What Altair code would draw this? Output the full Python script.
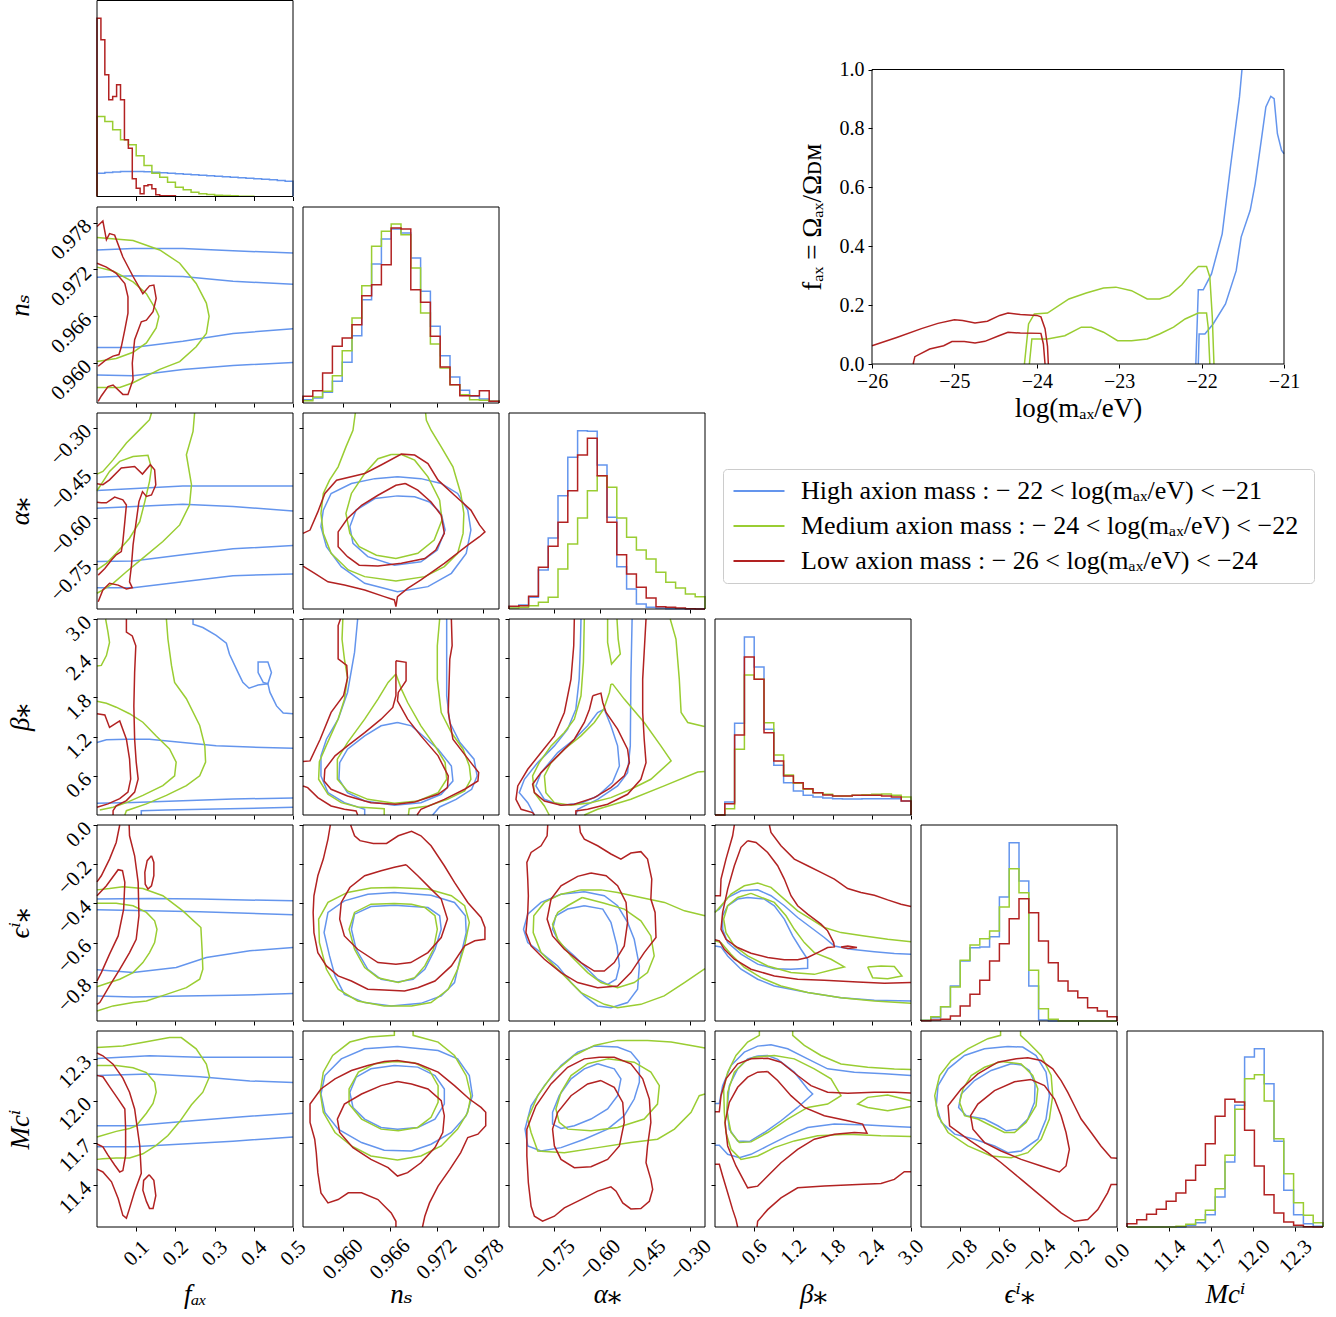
import altair as alt
import pandas as pd

FONT = "Liberation Serif, DejaVu Serif, serif"

LABEL_HIGH = "High axion mass :  − 22 < log(mₐₓ/eV) < −21"
LABEL_MED = "Medium axion mass :  − 24 < log(mₐₓ/eV) < −22"
LABEL_LOW = "Low axion mass :  − 26 < log(mₐₓ/eV) < −24"
GROUPS = ["high", "medium", "low"]
GROUP_LABEL = {"high": LABEL_HIGH, "medium": LABEL_MED, "low": LABEL_LOW}
GROUP_COLORS = ["#6495ED", "#9ACD32", "#B22222"]

PARAMS = ["fax", "ns", "alpha", "beta", "eps", "mc"]
RANGES = {"fax": [0.0, 0.5], "ns": [0.9549, 0.9800], "alpha": [-0.900, -0.252],
          "beta": [0.0, 3.0], "eps": [-1.0, 0.0], "mc": [11.097, 12.497]}
TICKS = {"fax": [0.1, 0.2, 0.3, 0.4, 0.5], "ns": [0.960, 0.966, 0.972, 0.978],
         "alpha": [-0.75, -0.60, -0.45, -0.30], "beta": [0.6, 1.2, 1.8, 2.4, 3.0],
         "eps": [-0.8, -0.6, -0.4, -0.2, 0.0], "mc": [11.4, 11.7, 12.0, 12.3]}
FORMATS = {"fax": ".1f", "ns": ".3f", "alpha": ".2f", "beta": ".1f", "eps": ".1f", "mc": ".1f"}
TITLES = {"fax": "fₐₓ", "ns": "nₛ", "alpha": "α⁎", "beta": "β⁎", "eps": "ϵⁱ⁎", "mc": "Mcⁱ"}

# ---------------- 1D histograms (relative heights) ----------------
HIST_FAX_WIDTH = {"high": 0.02, "medium": 0.02, "low": 0.01}
HIST_FAX = {
    "high": [23.3, 24.0, 24.5, 25.0, 25.0, 25.0, 24.7, 24.3, 23.7, 23.3, 22.7, 22.3, 21.7,
             21.3, 20.7, 20.3, 19.7, 19.3, 18.7, 18.3, 17.7, 17.3, 16.7, 16.0, 15.3],
    "medium": [80.0, 75.0, 66.7, 56.7, 51.7, 40.7, 31.0, 23.3, 19.3, 14.3, 9.3, 6.7, 4.3,
               2.7, 2.0, 1.3, 1.0, 0.7, 0.3, 0.3],
    "low": [178.3, 156.7, 121.7, 96.7, 100.0, 111.7, 96.7, 56.7, 48.3, 17.7, 8.3, 2.7, 10.7,
            11.7, 7.7, 1.7, 0.7, 0.7, 0.7, 0.7],
}
HIST_NS = {
    "high": [3.3, 5.0, 10.7, 21.7, 40.7, 67.3, 103.3, 139.0, 164.0, 174.0, 170.0, 145.0, 111.7,
             76.7, 47.3, 26.0, 12.7, 6.7, 4.0, 1.7],
    "medium": [2.3, 6.0, 11.7, 27.3, 52.3, 85.0, 117.3, 156.7, 171.7, 179.0, 168.3, 135.0, 90.0,
               59.0, 35.0, 18.3, 8.3, 3.3, 2.7, 1.7],
    "low": [6.7, 12.3, 30.0, 56.7, 65.0, 78.3, 107.3, 118.3, 138.3, 175.0, 174.0, 113.3, 100.7,
            66.7, 36.0, 18.3, 7.3, 7.3, 12.3, 1.7],
}
HIST_ALPHA = {
    "high": [2.3, 4.0, 11.7, 39.0, 71.0, 113.3, 151.7, 178.3, 177.7, 144.0, 91.7, 42.3, 20.0,
             5.0, 1.7, 1.0, 0.3, 0.3, 0.0, 0.0],
    "medium": [1.0, 1.7, 3.3, 6.7, 11.7, 40.0, 65.0, 91.0, 118.3, 133.3, 121.7, 91.0, 71.7,
               59.0, 50.0, 36.7, 26.7, 21.0, 15.0, 12.3],
    "low": [2.7, 3.3, 12.7, 41.7, 62.7, 86.7, 118.3, 154.0, 170.7, 133.3, 86.7, 54.3, 35.0,
            21.7, 11.0, 2.3, 1.7, 1.0, 0.3, 0.0],
}
HIST_BETA = {
    "high": [0.0, 13.0, 91.7, 178.0, 148.0, 85.7, 49.7, 32.3, 24.0, 19.7, 18.0, 17.0, 16.3,
             16.0, 16.0, 16.3, 16.3, 16.3, 16.3, 14.0],
    "medium": [0.0, 6.3, 65.7, 140.0, 135.7, 92.3, 60.0, 40.0, 31.7, 25.7, 22.3, 20.7, 19.0,
               19.0, 19.7, 20.3, 20.7, 21.0, 19.7, 18.0],
    "low": [0.0, 11.3, 80.0, 158.0, 135.7, 82.3, 54.0, 39.0, 32.3, 26.3, 22.3, 20.0, 19.0,
            19.0, 19.7, 19.7, 19.7, 19.0, 18.0, 14.0],
}
HIST_EPS = {
    "high": [0.7, 3.3, 14.3, 35.0, 60.0, 73.3, 74.0, 84.3, 124.0, 178.3, 140.0, 35.0, 1.0,
             0.0, 0.0, 0.0, 0.0, 0.0, 0.0, 0.0],
    "medium": [0.7, 4.3, 14.3, 34.0, 60.7, 76.0, 82.3, 90.0, 114.0, 152.3, 128.3, 50.7, 12.3,
               1.7, 0.0, 0.0, 0.0, 0.0, 0.0, 0.0],
    "low": [0.3, 1.0, 1.7, 5.0, 15.0, 26.7, 40.7, 60.0, 77.3, 102.3, 122.3, 108.3, 80.0, 58.3,
            40.0, 30.0, 23.3, 13.3, 10.0, 4.3],
}
HIST_MC = {
    "high": [0.0, 0.0, 0.0, 0.0, 0.0, 0.0, 1.7, 4.3, 12.3, 30.0, 65.0, 121.7, 170.0, 178.3,
             143.3, 85.7, 36.7, 12.3, 3.3, 0.7],
    "medium": [0.0, 0.0, 0.0, 0.0, 0.0, 0.7, 2.7, 7.3, 16.7, 38.3, 71.7, 117.7, 148.3, 152.3,
               126.0, 88.3, 53.3, 24.3, 11.7, 4.3],
    "low": [3.3, 7.3, 12.7, 17.7, 25.7, 34.0, 46.7, 61.7, 83.3, 110.7, 127.7, 125.0, 96.7,
            61.0, 32.3, 14.0, 5.0, 1.7, 0.3, 0.0],
}

# ---------------- 2D contour lines (x, y) ----------------
FAX_NS = {
    "high": [
        [(0, 0.9745), (0.092, 0.9747), (0.219, 0.9747), (0.347, 0.9744), (0.5, 0.9741)],
        [(0, 0.9710), (0.092, 0.9712), (0.219, 0.9711), (0.347, 0.9705), (0.5, 0.9701)],
        [(0, 0.9620), (0.092, 0.9620), (0.219, 0.9628), (0.347, 0.9638), (0.5, 0.9644)],
        [(0, 0.9585), (0.092, 0.9584), (0.219, 0.9592), (0.347, 0.9597), (0.5, 0.9601)],
    ],
    "medium": [
        [(0, 0.9761), (0.092, 0.9757), (0.160, 0.9745), (0.211, 0.9728), (0.253, 0.9702),
         (0.279, 0.9677), (0.286, 0.9660), (0.279, 0.9638), (0.253, 0.9621), (0.211, 0.9602),
         (0.160, 0.9592), (0.092, 0.9575), (0.058, 0.9569), (0, 0.9569)],
        [(0, 0.9723), (0.041, 0.9718), (0.092, 0.9704), (0.126, 0.9689), (0.151, 0.9668),
         (0.158, 0.9660), (0.151, 0.9645), (0.126, 0.9626), (0.092, 0.9614), (0.049, 0.9606),
         (0, 0.9602)],
    ],
    "low": [
        [(0, 0.9775), (0.015, 0.9782), (0.024, 0.9758), (0.032, 0.9766), (0.045, 0.9764),
         (0.066, 0.9736), (0.092, 0.9711), (0.117, 0.9689), (0.134, 0.9699), (0.145, 0.9700),
         (0.151, 0.9683), (0.143, 0.9666), (0.126, 0.9655), (0.113, 0.9653), (0.096, 0.9630),
         (0.090, 0.9600), (0.092, 0.9579), (0.079, 0.9560), (0.066, 0.9560), (0.041, 0.9572),
         (0.028, 0.9570), (0.011, 0.9558), (0.003, 0.9551)],
        [(0, 0.9728), (0.024, 0.9723), (0.049, 0.9715), (0.071, 0.9702), (0.079, 0.9685),
         (0.079, 0.9664), (0.071, 0.9643), (0.062, 0.9621), (0.056, 0.9611), (0.041, 0.9609),
         (0.022, 0.9604), (0.003, 0.9596)],
    ],
}
FAX_ALPHA = {
    "high": [
        [(0, -0.508), (0.219, -0.493), (0.5, -0.493)],
        [(0, -0.567), (0.219, -0.554), (0.347, -0.561), (0.5, -0.576)],
        [(0, -0.743), (0.092, -0.741), (0.219, -0.721), (0.347, -0.701), (0.5, -0.690)],
        [(0, -0.830), (0.092, -0.830), (0.219, -0.810), (0.347, -0.790), (0.5, -0.784)],
    ],
    "medium": [
        [(0.139, -0.252), (0.134, -0.274), (0.109, -0.307), (0.075, -0.351), (0.041, -0.407),
         (0.015, -0.445), (0, -0.454)],
        [(0.249, -0.252), (0.245, -0.313), (0.228, -0.390), (0.241, -0.489), (0.236, -0.556),
         (0.211, -0.622), (0.168, -0.677), (0.117, -0.732), (0.075, -0.777), (0.041, -0.815),
         (0.015, -0.837), (0, -0.848)],
        [(0, -0.509), (0.032, -0.445), (0.058, -0.412), (0.092, -0.396), (0.130, -0.392),
         (0.139, -0.434), (0.134, -0.478), (0.122, -0.545), (0.109, -0.611), (0.083, -0.666),
         (0.049, -0.716), (0.024, -0.749), (0, -0.771)],
    ],
    "low": [
        [(0, -0.486), (0.015, -0.489), (0.032, -0.473), (0.062, -0.434), (0.096, -0.429),
         (0.116, -0.454), (0.136, -0.423), (0.147, -0.440), (0.150, -0.490), (0.139, -0.523),
         (0.126, -0.528), (0.116, -0.512), (0.107, -0.545), (0.100, -0.611), (0.092, -0.688),
         (0.088, -0.755), (0.083, -0.810), (0.090, -0.830), (0.075, -0.834), (0.054, -0.821),
         (0.032, -0.815), (0.015, -0.837), (0.003, -0.876)],
        [(0, -0.547), (0.011, -0.549), (0.024, -0.549), (0.045, -0.530), (0.066, -0.539),
         (0.075, -0.556), (0.071, -0.611), (0.066, -0.677), (0.062, -0.710), (0.049, -0.721),
         (0.037, -0.738), (0.020, -0.766), (0.003, -0.788)],
    ],
}
FAX_BETA = {
    "high": [
        [(0.245, 3.0), (0.245, 2.92), (0.270, 2.87), (0.304, 2.75), (0.330, 2.63), (0.338, 2.46),
         (0.360, 2.18), (0.372, 2.03), (0.388, 1.94), (0.411, 1.99), (0.436, 2.01), (0.441, 1.88),
         (0.458, 1.67), (0.475, 1.56), (0.5, 1.55)],
        [(0.436, 2.01), (0.445, 2.18), (0.436, 2.34), (0.411, 2.34), (0.411, 2.18), (0.424, 2.03),
         (0.436, 2.01)],
        [(0, 1.11), (0.024, 1.15), (0.075, 1.16), (0.134, 1.16), (0.219, 1.11), (0.304, 1.06),
         (0.390, 1.04), (0.5, 1.02)],
        [(0, 0.18), (0.092, 0.19), (0.219, 0.22), (0.347, 0.245), (0.5, 0.26)],
        [(0.113, 0), (0.113, 0.066), (0.177, 0.077), (0.304, 0.092), (0.5, 0.117)],
    ],
    "medium": [
        [(0.022, 3.0), (0.028, 2.80), (0.032, 2.64), (0.024, 2.44), (0.011, 2.29), (0, 2.28)],
        [(0.177, 3.0), (0.181, 2.69), (0.190, 2.29), (0.198, 2.03), (0.228, 1.78), (0.262, 1.37),
         (0.275, 1.06), (0.277, 0.81), (0.262, 0.60), (0.228, 0.45), (0.177, 0.30), (0.126, 0.17),
         (0.075, 0.066), (0.071, 0)],
        [(0, 1.74), (0.024, 1.71), (0.049, 1.65), (0.083, 1.55), (0.117, 1.42), (0.151, 1.21),
         (0.185, 1.01), (0.202, 0.81), (0.198, 0.60), (0.168, 0.45), (0.117, 0.30), (0.075, 0.19),
         (0.041, 0.12), (0.007, 0.077)],
    ],
    "low": [
        [(0.075, 3.0), (0.075, 2.80), (0.090, 2.74), (0.099, 2.59), (0.096, 2.18), (0.094, 1.67),
         (0.096, 1.16), (0.100, 0.81), (0.105, 0.55), (0.096, 0.35), (0.075, 0.22), (0.049, 0.14),
         (0.041, 0.066), (0.041, 0)],
        [(0, 1.55), (0.020, 1.53), (0.032, 1.34), (0.045, 1.39), (0.058, 1.44), (0.075, 1.16),
         (0.083, 0.86), (0.086, 0.55), (0.079, 0.35), (0.058, 0.25), (0.028, 0.17), (0, 0.12)],
    ],
}
FAX_EPS = {
    "high": [
        [(0, -0.378), (0.134, -0.375), (0.262, -0.378), (0.5, -0.387)],
        [(0, -0.433), (0.134, -0.438), (0.262, -0.443), (0.5, -0.458)],
        [(0, -0.739), (0.092, -0.753), (0.202, -0.727), (0.279, -0.676), (0.390, -0.642),
         (0.5, -0.625)],
        [(0, -0.872), (0.092, -0.877), (0.219, -0.872), (0.347, -0.869), (0.5, -0.860)],
    ],
    "medium": [
        [(0, -0.331), (0.032, -0.324), (0.066, -0.315), (0.117, -0.324), (0.168, -0.361),
         (0.219, -0.438), (0.265, -0.523), (0.268, -0.634), (0.270, -0.736), (0.262, -0.787),
         (0.228, -0.830), (0.177, -0.864), (0.126, -0.898), (0.092, -0.906), (0.041, -0.923),
         (0, -0.949)],
        [(0, -0.399), (0.049, -0.399), (0.092, -0.412), (0.126, -0.446), (0.147, -0.489),
         (0.153, -0.532), (0.147, -0.600), (0.134, -0.651), (0.117, -0.702), (0.092, -0.753),
         (0.058, -0.787), (0.032, -0.804), (0, -0.825)],
    ],
    "low": [
        [(0.058, 0), (0.049, -0.089), (0.032, -0.174), (0.011, -0.259), (0, -0.290)],
        [(0.082, 0), (0.083, -0.055), (0.096, -0.157), (0.105, -0.293), (0.107, -0.463),
         (0.100, -0.583), (0.083, -0.651), (0.058, -0.736), (0.032, -0.821), (0.007, -0.906),
         (0, -0.915)],
        [(0, -0.361), (0.024, -0.310), (0.054, -0.228), (0.065, -0.233), (0.071, -0.293),
         (0.068, -0.429), (0.054, -0.566), (0.032, -0.659), (0.011, -0.753), (0, -0.796)],
        [(0.139, -0.157), (0.145, -0.191), (0.145, -0.259), (0.139, -0.310), (0.130, -0.327),
         (0.123, -0.302), (0.122, -0.242), (0.128, -0.182), (0.139, -0.157)],
    ],
}
FAX_MC = {
    "high": [
        [(0, 12.30), (0.134, 12.32), (0.262, 12.31), (0.5, 12.31)],
        [(0, 12.18), (0.134, 12.19), (0.262, 12.17), (0.390, 12.14), (0.5, 12.13)],
        [(0, 11.82), (0.092, 11.82), (0.219, 11.85), (0.347, 11.88), (0.5, 11.91)],
        [(0, 11.67), (0.092, 11.67), (0.219, 11.69), (0.347, 11.71), (0.5, 11.74)],
    ],
    "medium": [
        [(0, 12.38), (0.066, 12.39), (0.126, 12.42), (0.185, 12.45), (0.215, 12.45),
         (0.253, 12.37), (0.279, 12.26), (0.287, 12.17), (0.270, 12.06), (0.241, 11.97),
         (0.211, 11.85), (0.181, 11.75), (0.151, 11.68), (0.117, 11.62), (0.083, 11.59),
         (0.049, 11.59), (0.015, 11.585), (0, 11.58)],
        [(0, 12.25), (0.049, 12.25), (0.092, 12.235), (0.126, 12.20), (0.147, 12.13),
         (0.151, 12.06), (0.143, 11.98), (0.126, 11.91), (0.100, 11.82), (0.083, 11.80),
         (0.049, 11.78), (0, 11.74)],
    ],
    "low": [
        [(0, 12.34), (0.015, 12.32), (0.041, 12.26), (0.066, 12.16), (0.083, 12.06),
         (0.096, 11.94), (0.102, 11.82), (0.109, 11.68), (0.113, 11.48), (0.096, 11.35),
         (0.083, 11.23), (0.075, 11.16), (0.066, 11.18), (0.054, 11.30), (0.037, 11.42),
         (0.015, 11.49), (0, 11.51)],
        [(0, 12.18), (0.015, 12.17), (0.032, 12.10), (0.054, 12.01), (0.071, 11.94),
         (0.073, 11.80), (0.073, 11.61), (0.066, 11.50), (0.058, 11.49), (0.045, 11.54),
         (0.028, 11.61), (0.015, 11.67), (0, 11.69)],
        [(0.133, 11.47), (0.145, 11.43), (0.150, 11.32), (0.143, 11.23), (0.134, 11.23),
         (0.126, 11.28), (0.117, 11.36), (0.119, 11.43), (0.133, 11.47)],
    ],
}
NS_ALPHA = {
    "high": [
        [(0.9670, -0.463), (0.9641, -0.469), (0.9611, -0.485), (0.9585, -0.518), (0.9575, -0.573),
         (0.9572, -0.628), (0.9579, -0.694), (0.9598, -0.760), (0.9628, -0.815), (0.9670, -0.843),
         (0.9709, -0.826), (0.9739, -0.782), (0.9758, -0.716), (0.9764, -0.639), (0.9760, -0.573),
         (0.9747, -0.518), (0.9726, -0.485), (0.9700, -0.469), (0.9670, -0.463)],
        [(0.9670, -0.526), (0.9641, -0.535), (0.9617, -0.573), (0.9609, -0.628), (0.9613, -0.683),
         (0.9632, -0.727), (0.9666, -0.755), (0.9700, -0.744), (0.9721, -0.705), (0.9731, -0.639),
         (0.9726, -0.584), (0.9711, -0.546), (0.9692, -0.529), (0.9670, -0.526)],
    ],
    "medium": [
        [(0.9616, -0.252), (0.9613, -0.309), (0.9604, -0.364), (0.9594, -0.430), (0.9583, -0.474),
         (0.9575, -0.518), (0.9572, -0.584), (0.9575, -0.650), (0.9585, -0.716), (0.9607, -0.771),
         (0.9628, -0.793), (0.9668, -0.807), (0.9705, -0.793), (0.9730, -0.760), (0.9747, -0.716),
         (0.9754, -0.650), (0.9755, -0.584), (0.9751, -0.518), (0.9741, -0.430), (0.9726, -0.364),
         (0.9713, -0.309), (0.9707, -0.276), (0.9706, -0.252)],
        [(0.9662, -0.389), (0.9645, -0.403), (0.9628, -0.452), (0.9611, -0.518), (0.9604, -0.584),
         (0.9609, -0.650), (0.9621, -0.694), (0.9643, -0.722), (0.9668, -0.733), (0.9696, -0.716),
         (0.9717, -0.672), (0.9727, -0.606), (0.9724, -0.540), (0.9709, -0.463), (0.9692, -0.408),
         (0.9675, -0.389), (0.9662, -0.389)],
    ],
    "low": [
        [(0.9549, -0.650), (0.9558, -0.639), (0.9568, -0.579), (0.9577, -0.518), (0.9592, -0.474),
         (0.9628, -0.452), (0.9649, -0.424), (0.9675, -0.388), (0.9692, -0.391), (0.9709, -0.419),
         (0.9722, -0.474), (0.9743, -0.524), (0.9764, -0.573), (0.9775, -0.622), (0.9782, -0.645),
         (0.9775, -0.661), (0.9760, -0.689), (0.9730, -0.749), (0.9700, -0.804), (0.9683, -0.832),
         (0.9670, -0.859), (0.9668, -0.892), (0.9666, -0.870), (0.9653, -0.859), (0.9628, -0.837),
         (0.9602, -0.821), (0.9581, -0.810), (0.9564, -0.782), (0.9549, -0.758)],
        [(0.9680, -0.485), (0.9668, -0.491), (0.9645, -0.524), (0.9624, -0.557), (0.9606, -0.601),
         (0.9594, -0.645), (0.9594, -0.694), (0.9606, -0.727), (0.9621, -0.755), (0.9645, -0.758),
         (0.9675, -0.749), (0.9705, -0.733), (0.9719, -0.705), (0.9730, -0.650), (0.9726, -0.590),
         (0.9713, -0.546), (0.9696, -0.507), (0.9680, -0.485)],
    ],
}
NS_BETA = {
    "high": [
        [(0.9619, 3.0), (0.9615, 2.489), (0.9606, 1.876), (0.9594, 1.467), (0.9579, 1.160),
         (0.9572, 0.905), (0.9572, 0.598), (0.9581, 0.342), (0.9602, 0.189), (0.9628, 0.087),
         (0.9628, 0)],
        [(0.9733, 3.0), (0.9733, 2.336), (0.9733, 1.825), (0.9737, 1.416), (0.9750, 1.109),
         (0.9768, 0.854), (0.9772, 0.598), (0.9765, 0.394), (0.9745, 0.240), (0.9724, 0.123),
         (0.9715, 0)],
        [(0.9670, 1.416), (0.9649, 1.365), (0.9628, 1.211), (0.9606, 1.007), (0.9596, 0.802),
         (0.9595, 0.547), (0.9606, 0.342), (0.9628, 0.215), (0.9666, 0.148), (0.9700, 0.189),
         (0.9726, 0.317), (0.9741, 0.521), (0.9739, 0.751), (0.9722, 1.007), (0.9705, 1.186),
         (0.9688, 1.365), (0.9670, 1.416)],
    ],
    "medium": [
        [(0.9600, 3.0), (0.9599, 2.69), (0.9602, 2.39), (0.9606, 2.10), (0.9602, 1.77),
         (0.9594, 1.47), (0.9579, 1.07), (0.9570, 0.818), (0.9569, 0.547), (0.9581, 0.317),
         (0.9598, 0.189), (0.9619, 0.123), (0.9653, 0.097), (0.9653, 0)],
        [(0.9724, 3.0), (0.9721, 2.591), (0.9721, 2.080), (0.9726, 1.569), (0.9739, 1.262),
         (0.9754, 1.007), (0.9762, 0.751), (0.9764, 0.547), (0.9756, 0.368), (0.9734, 0.240),
         (0.9709, 0.138), (0.9685, 0.097), (0.9684, 0)],
        [(0.9668, 2.157), (0.9658, 2.029), (0.9645, 1.774), (0.9628, 1.467), (0.9606, 1.109),
         (0.9593, 0.854), (0.9593, 0.547), (0.9606, 0.368), (0.9632, 0.240), (0.9666, 0.179),
         (0.9696, 0.215), (0.9722, 0.342), (0.9733, 0.547), (0.9731, 0.802), (0.9718, 1.058),
         (0.9700, 1.365), (0.9683, 1.722), (0.9675, 1.927), (0.9668, 2.157)],
    ],
    "low": [
        [(0.9597, 3.0), (0.9594, 2.90), (0.9594, 2.39), (0.9605, 2.29), (0.9606, 2.10),
         (0.9601, 1.83), (0.9585, 1.57), (0.9571, 1.16), (0.9558, 0.828), (0.9549, 0.818)],
        [(0.9549, 0.445), (0.9555, 0.419), (0.9568, 0.266), (0.9585, 0.138), (0.9602, 0.087),
         (0.9617, 0.061), (0.9619, 0)],
        [(0.9695, 0), (0.9700, 0.087), (0.9730, 0.240), (0.9756, 0.394), (0.9773, 0.521),
         (0.9774, 0.649), (0.9764, 0.802), (0.9741, 1.160), (0.9735, 1.569), (0.9737, 2.387),
         (0.9740, 2.591), (0.9739, 3.0)],
        [(0.9668, 2.361), (0.9681, 2.336), (0.9681, 2.055), (0.9671, 1.876), (0.9670, 1.748),
         (0.9683, 1.467), (0.9700, 1.211), (0.9722, 0.905), (0.9735, 0.598), (0.9734, 0.419),
         (0.9722, 0.317), (0.9692, 0.199), (0.9668, 0.164), (0.9636, 0.189), (0.9606, 0.291),
         (0.9585, 0.394), (0.9576, 0.521), (0.9577, 0.700), (0.9590, 0.905), (0.9606, 1.058),
         (0.9628, 1.262), (0.9649, 1.467), (0.9664, 1.646), (0.9668, 1.825), (0.9668, 2.361)],
    ],
}
NS_EPS = {
    "high": [
        [(0.9666, -0.344), (0.9632, -0.353), (0.9602, -0.387), (0.9581, -0.446), (0.9576, -0.549),
         (0.9583, -0.668), (0.9590, -0.770), (0.9602, -0.864), (0.9628, -0.906), (0.9662, -0.923),
         (0.9700, -0.910), (0.9726, -0.872), (0.9743, -0.804), (0.9751, -0.668), (0.9758, -0.549),
         (0.9757, -0.463), (0.9743, -0.395), (0.9713, -0.358), (0.9666, -0.344)],
        [(0.9666, -0.409), (0.9636, -0.416), (0.9615, -0.455), (0.9611, -0.532), (0.9617, -0.634),
         (0.9632, -0.736), (0.9649, -0.787), (0.9670, -0.801), (0.9690, -0.787), (0.9705, -0.736),
         (0.9718, -0.634), (0.9726, -0.532), (0.9724, -0.463), (0.9709, -0.421), (0.9666, -0.409)],
    ],
    "medium": [
        [(0.9666, -0.319), (0.9636, -0.322), (0.9606, -0.344), (0.9581, -0.395), (0.9569, -0.480),
         (0.9570, -0.600), (0.9579, -0.736), (0.9594, -0.838), (0.9619, -0.898), (0.9653, -0.923),
         (0.9688, -0.923), (0.9713, -0.906), (0.9735, -0.838), (0.9747, -0.736), (0.9756, -0.617),
         (0.9762, -0.497), (0.9756, -0.412), (0.9739, -0.361), (0.9709, -0.327), (0.9666, -0.319)],
        [(0.9666, -0.400), (0.9636, -0.404), (0.9615, -0.446), (0.9608, -0.532), (0.9615, -0.634),
         (0.9628, -0.727), (0.9645, -0.779), (0.9671, -0.804), (0.9692, -0.779), (0.9705, -0.719),
         (0.9716, -0.634), (0.9721, -0.532), (0.9718, -0.463), (0.9705, -0.421), (0.9688, -0.404),
         (0.9666, -0.400)],
    ],
    "low": [
        [(0.9584, 0), (0.9581, -0.072), (0.9575, -0.174), (0.9568, -0.259), (0.9563, -0.361),
         (0.9562, -0.446), (0.9563, -0.549), (0.9568, -0.651), (0.9579, -0.719), (0.9594, -0.770),
         (0.9611, -0.796), (0.9632, -0.838), (0.9653, -0.842), (0.9679, -0.847), (0.9696, -0.830),
         (0.9718, -0.796), (0.9739, -0.719), (0.9756, -0.617), (0.9769, -0.591), (0.9782, -0.583),
         (0.9782, -0.523), (0.9777, -0.472), (0.9760, -0.395), (0.9743, -0.293), (0.9730, -0.208),
         (0.9713, -0.106), (0.9700, -0.055), (0.9688, -0.032), (0.9671, -0.055), (0.9656, -0.094),
         (0.9639, -0.094), (0.9622, -0.080), (0.9615, -0.055), (0.9610, 0)],
        [(0.9681, -0.203), (0.9666, -0.216), (0.9649, -0.233), (0.9628, -0.259), (0.9609, -0.319),
         (0.9598, -0.395), (0.9596, -0.480), (0.9602, -0.566), (0.9619, -0.634), (0.9645, -0.702),
         (0.9668, -0.710), (0.9687, -0.702), (0.9709, -0.651), (0.9726, -0.574), (0.9734, -0.480),
         (0.9726, -0.378), (0.9713, -0.327), (0.9696, -0.259), (0.9681, -0.203)],
    ],
}
NS_MC = {
    "high": [
        [(0.9670, 12.387), (0.9628, 12.370), (0.9598, 12.298), (0.9577, 12.179), (0.9572, 12.047),
         (0.9577, 11.916), (0.9594, 11.796), (0.9624, 11.700), (0.9653, 11.645), (0.9688, 11.640),
         (0.9713, 11.688), (0.9739, 11.772), (0.9758, 11.892), (0.9766, 12.035), (0.9762, 12.179),
         (0.9747, 12.298), (0.9722, 12.358), (0.9670, 12.387)],
        [(0.9666, 12.251), (0.9636, 12.227), (0.9617, 12.167), (0.9609, 12.059), (0.9613, 11.951),
         (0.9628, 11.868), (0.9649, 11.808), (0.9670, 11.796), (0.9696, 11.808), (0.9718, 11.868),
         (0.9730, 11.975), (0.9730, 12.083), (0.9718, 12.179), (0.9696, 12.239), (0.9666, 12.251)],
    ],
    "medium": [
        [(0.9666, 12.497), (0.9666, 12.466), (0.9634, 12.454), (0.9609, 12.418), (0.9587, 12.322),
         (0.9575, 12.203), (0.9571, 12.059), (0.9575, 11.916), (0.9590, 11.772), (0.9611, 11.676),
         (0.9636, 11.604), (0.9670, 11.576), (0.9700, 11.604), (0.9726, 11.676), (0.9747, 11.796),
         (0.9760, 11.916), (0.9764, 12.035), (0.9758, 12.178), (0.9743, 12.322), (0.9722, 12.418),
         (0.9690, 12.466), (0.9690, 12.497)],
        [(0.9666, 12.279), (0.9641, 12.263), (0.9620, 12.203), (0.9608, 12.083), (0.9608, 11.975),
         (0.9624, 11.868), (0.9649, 11.796), (0.9671, 11.784), (0.9696, 11.808), (0.9713, 11.880),
         (0.9722, 11.987), (0.9722, 12.107), (0.9711, 12.215), (0.9692, 12.270), (0.9666, 12.279)],
    ],
    "low": [
        [(0.9668, 11.097), (0.9668, 11.138), (0.9662, 11.198), (0.9645, 11.293), (0.9624, 11.341),
         (0.9607, 11.341), (0.9594, 11.293), (0.9581, 11.269), (0.9572, 11.341), (0.9568, 11.485),
         (0.9566, 11.628), (0.9564, 11.724), (0.9558, 11.844), (0.9558, 11.975), (0.9572, 12.083),
         (0.9590, 12.155), (0.9611, 12.215), (0.9632, 12.251), (0.9653, 12.279), (0.9670, 12.286),
         (0.9696, 12.263), (0.9722, 12.203), (0.9743, 12.107), (0.9762, 12.011), (0.9777, 11.951),
         (0.9783, 11.916), (0.9783, 11.820), (0.9773, 11.760), (0.9760, 11.736), (0.9751, 11.628),
         (0.9737, 11.509), (0.9722, 11.389), (0.9711, 11.269), (0.9705, 11.174), (0.9702, 11.097)],
        [(0.9670, 12.136), (0.9649, 12.107), (0.9624, 12.047), (0.9602, 11.975), (0.9593, 11.868),
         (0.9596, 11.772), (0.9613, 11.664), (0.9636, 11.580), (0.9658, 11.521), (0.9670, 11.461),
         (0.9683, 11.485), (0.9700, 11.556), (0.9718, 11.664), (0.9728, 11.772), (0.9730, 11.892),
         (0.9726, 12.000), (0.9709, 12.083), (0.9688, 12.119), (0.9670, 12.136)],
    ],
}
ALPHA_BETA = {
    "high": [
        [(-0.662, 3.0), (-0.664, 2.591), (-0.668, 2.080), (-0.679, 1.620), (-0.706, 1.314),
         (-0.750, 1.058), (-0.805, 0.802), (-0.849, 0.547), (-0.866, 0.342), (-0.838, 0.189),
         (-0.816, 0)],
        [(-0.493, 3.0), (-0.497, 2.080), (-0.499, 1.058), (-0.508, 0.649), (-0.541, 0.445),
         (-0.607, 0.240), (-0.673, 0.087), (-0.679, 0)],
        [(-0.585, 1.620), (-0.607, 1.569), (-0.640, 1.365), (-0.684, 1.160), (-0.739, 0.956),
         (-0.794, 0.649), (-0.811, 0.445), (-0.783, 0.240), (-0.728, 0.148), (-0.662, 0.179),
         (-0.607, 0.291), (-0.558, 0.496), (-0.535, 0.751), (-0.541, 1.058), (-0.563, 1.365),
         (-0.585, 1.620)],
    ],
    "medium": [
        [(-0.651, 3.0), (-0.654, 2.336), (-0.662, 1.825), (-0.684, 1.467), (-0.717, 1.262),
         (-0.761, 1.058), (-0.800, 0.802), (-0.822, 0.598), (-0.816, 0.342), (-0.783, 0.138),
         (-0.767, 0)],
        [(-0.574, 3.0), (-0.574, 2.642), (-0.561, 2.310), (-0.532, 2.463), (-0.539, 2.693),
         (-0.543, 3.0)],
        [(-0.367, 3.0), (-0.348, 2.693), (-0.337, 2.080), (-0.331, 1.569), (-0.309, 1.416),
         (-0.254, 1.354)],
        [(-0.563, 2.003), (-0.568, 1.876), (-0.587, 1.620), (-0.618, 1.416), (-0.662, 1.211),
         (-0.717, 1.007), (-0.761, 0.802), (-0.783, 0.598), (-0.778, 0.342), (-0.750, 0.189),
         (-0.695, 0.148), (-0.629, 0.189), (-0.563, 0.266), (-0.497, 0.394), (-0.431, 0.547),
         (-0.364, 0.828), (-0.398, 1.058), (-0.453, 1.416), (-0.519, 1.774), (-0.557, 2.003),
         (-0.563, 2.003)],
        [(-0.651, 0), (-0.607, 0.087), (-0.497, 0.240), (-0.387, 0.445), (-0.276, 0.659),
         (-0.254, 0.664)],
    ],
    "low": [
        [(-0.684, 3.0), (-0.686, 2.591), (-0.695, 2.080), (-0.717, 1.569), (-0.750, 1.211),
         (-0.794, 0.956), (-0.838, 0.700), (-0.871, 0.445), (-0.877, 0.240), (-0.860, 0.087),
         (-0.822, 0.036), (-0.816, 0)],
        [(-0.679, 0), (-0.679, 0.061), (-0.640, 0.087), (-0.574, 0.164), (-0.508, 0.317),
         (-0.464, 0.547), (-0.447, 0.802), (-0.453, 1.160), (-0.458, 1.569), (-0.458, 2.080),
         (-0.447, 3.0)],
        [(-0.623, 1.825), (-0.596, 1.865), (-0.590, 1.722), (-0.579, 1.569), (-0.541, 1.314),
         (-0.508, 1.007), (-0.502, 0.802), (-0.519, 0.598), (-0.563, 0.419), (-0.618, 0.266),
         (-0.684, 0.164), (-0.728, 0.148), (-0.783, 0.215), (-0.816, 0.342), (-0.822, 0.470),
         (-0.794, 0.649), (-0.739, 0.905), (-0.684, 1.160), (-0.651, 1.416), (-0.634, 1.620),
         (-0.623, 1.825)],
    ],
}
ALPHA_EPS = {
    "high": [
        [(-0.651, -0.341), (-0.728, -0.353), (-0.794, -0.395), (-0.838, -0.455), (-0.852, -0.532),
         (-0.838, -0.600), (-0.794, -0.651), (-0.739, -0.719), (-0.695, -0.804), (-0.651, -0.872),
         (-0.607, -0.923), (-0.563, -0.932), (-0.508, -0.906), (-0.475, -0.838), (-0.469, -0.719),
         (-0.486, -0.583), (-0.508, -0.497), (-0.541, -0.412), (-0.585, -0.361), (-0.651, -0.341)],
        [(-0.651, -0.412), (-0.706, -0.429), (-0.745, -0.463), (-0.756, -0.532), (-0.734, -0.600),
         (-0.684, -0.668), (-0.640, -0.736), (-0.607, -0.787), (-0.574, -0.813), (-0.546, -0.787),
         (-0.535, -0.719), (-0.543, -0.617), (-0.563, -0.497), (-0.590, -0.429), (-0.651, -0.412)],
    ],
    "medium": [
        [(-0.252, -0.463), (-0.320, -0.438), (-0.386, -0.395), (-0.464, -0.370), (-0.541, -0.344),
         (-0.596, -0.331), (-0.662, -0.331), (-0.728, -0.353), (-0.783, -0.395), (-0.818, -0.463),
         (-0.820, -0.549), (-0.794, -0.651), (-0.728, -0.753), (-0.662, -0.855), (-0.585, -0.915),
         (-0.541, -0.932), (-0.464, -0.915), (-0.387, -0.872), (-0.320, -0.804), (-0.252, -0.733)],
        [(-0.658, -0.370), (-0.706, -0.412), (-0.739, -0.446), (-0.756, -0.506), (-0.739, -0.583),
         (-0.695, -0.668), (-0.640, -0.753), (-0.596, -0.804), (-0.541, -0.830), (-0.486, -0.804),
         (-0.442, -0.753), (-0.420, -0.668), (-0.431, -0.566), (-0.464, -0.489), (-0.519, -0.429),
         (-0.585, -0.399), (-0.658, -0.370)],
    ],
    "low": [
        [(-0.772, 0), (-0.774, -0.055), (-0.794, -0.106), (-0.827, -0.140), (-0.841, -0.191),
         (-0.838, -0.276), (-0.836, -0.361), (-0.838, -0.446), (-0.844, -0.549), (-0.827, -0.617),
         (-0.783, -0.685), (-0.728, -0.753), (-0.673, -0.804), (-0.607, -0.830), (-0.541, -0.821),
         (-0.497, -0.753), (-0.453, -0.651), (-0.414, -0.574), (-0.417, -0.446), (-0.431, -0.378),
         (-0.428, -0.276), (-0.442, -0.174), (-0.464, -0.136), (-0.497, -0.143), (-0.530, -0.174),
         (-0.563, -0.148), (-0.607, -0.106), (-0.651, -0.072), (-0.664, -0.038), (-0.667, 0)],
        [(-0.629, -0.245), (-0.673, -0.262), (-0.728, -0.310), (-0.761, -0.378), (-0.774, -0.480),
         (-0.756, -0.566), (-0.717, -0.634), (-0.662, -0.702), (-0.618, -0.745), (-0.585, -0.745),
         (-0.552, -0.702), (-0.519, -0.617), (-0.508, -0.497), (-0.513, -0.395), (-0.541, -0.310),
         (-0.579, -0.259), (-0.629, -0.245)],
    ],
}
ALPHA_MC = {
    "high": [
        [(-0.618, 12.389), (-0.673, 12.346), (-0.728, 12.250), (-0.783, 12.107), (-0.827, 11.963),
         (-0.847, 11.796), (-0.838, 11.676), (-0.794, 11.640), (-0.728, 11.664), (-0.651, 11.724),
         (-0.574, 11.796), (-0.519, 11.892), (-0.486, 12.011), (-0.469, 12.131), (-0.469, 12.274),
         (-0.497, 12.346), (-0.541, 12.382), (-0.618, 12.389)],
        [(-0.607, 12.263), (-0.651, 12.227), (-0.695, 12.155), (-0.734, 12.035), (-0.756, 11.916),
         (-0.756, 11.832), (-0.728, 11.801), (-0.684, 11.820), (-0.629, 11.868), (-0.574, 11.940),
         (-0.541, 12.035), (-0.530, 12.155), (-0.552, 12.227), (-0.607, 12.263)],
    ],
    "medium": [
        [(-0.252, 12.375), (-0.298, 12.394), (-0.364, 12.418), (-0.442, 12.430), (-0.541, 12.430),
         (-0.618, 12.394), (-0.684, 12.322), (-0.750, 12.203), (-0.805, 12.035), (-0.838, 11.868),
         (-0.827, 11.772), (-0.805, 11.640), (-0.717, 11.628), (-0.607, 11.664), (-0.497, 11.700),
         (-0.409, 11.724), (-0.353, 11.796), (-0.298, 11.916), (-0.271, 12.035), (-0.252, 12.047)],
        [(-0.574, 12.298), (-0.640, 12.263), (-0.695, 12.179), (-0.728, 12.059), (-0.745, 11.940),
         (-0.734, 11.844), (-0.706, 11.796), (-0.629, 11.784), (-0.541, 11.808), (-0.453, 11.868),
         (-0.409, 11.975), (-0.403, 12.107), (-0.431, 12.203), (-0.486, 12.274), (-0.574, 12.298)],
    ],
    "low": [
        [(-0.601, 12.310), (-0.651, 12.298), (-0.706, 12.238), (-0.761, 12.119), (-0.811, 11.963),
         (-0.841, 11.796), (-0.841, 11.604), (-0.836, 11.413), (-0.827, 11.245), (-0.816, 11.174),
         (-0.789, 11.138), (-0.750, 11.174), (-0.717, 11.234), (-0.662, 11.293), (-0.607, 11.353),
         (-0.563, 11.384), (-0.546, 11.353), (-0.524, 11.269), (-0.497, 11.226), (-0.464, 11.229),
         (-0.436, 11.281), (-0.425, 11.365), (-0.431, 11.437), (-0.447, 11.557), (-0.442, 11.676),
         (-0.431, 11.844), (-0.436, 12.011), (-0.458, 12.155), (-0.497, 12.262), (-0.552, 12.310),
         (-0.601, 12.310)],
        [(-0.596, 12.143), (-0.640, 12.119), (-0.695, 12.035), (-0.739, 11.916), (-0.756, 11.796),
         (-0.750, 11.676), (-0.728, 11.580), (-0.684, 11.521), (-0.629, 11.528), (-0.574, 11.580),
         (-0.535, 11.676), (-0.519, 11.844), (-0.524, 11.987), (-0.552, 12.095), (-0.596, 12.143)],
    ],
}
BETA_EPS = {
    "high": [
        [(0, -0.443), (0.066, -0.429), (0.194, -0.370), (0.398, -0.336), (0.653, -0.331),
         (0.857, -0.361), (1.061, -0.412), (1.265, -0.472), (1.469, -0.523), (1.673, -0.574),
         (1.827, -0.617), (2.082, -0.634), (2.439, -0.647), (2.745, -0.656), (3.0, -0.659)],
        [(0, -0.617), (0.092, -0.622), (0.194, -0.668), (0.398, -0.736), (0.653, -0.787),
         (0.908, -0.821), (1.418, -0.855), (1.929, -0.881), (2.439, -0.894), (3.0, -0.898)],
        [(0.500, -0.370), (0.755, -0.378), (0.908, -0.412), (1.061, -0.480), (1.189, -0.566),
         (1.316, -0.634), (1.418, -0.685), (1.418, -0.731), (1.163, -0.736), (0.908, -0.733),
         (0.653, -0.710), (0.398, -0.659), (0.194, -0.600), (0.117, -0.532), (0.117, -0.463),
         (0.194, -0.412), (0.347, -0.378), (0.500, -0.370)],
    ],
    "medium": [
        [(0, -0.446), (0.092, -0.412), (0.245, -0.353), (0.449, -0.310), (0.653, -0.296),
         (0.857, -0.318), (1.061, -0.378), (1.265, -0.438), (1.469, -0.480), (1.673, -0.523),
         (1.929, -0.549), (2.286, -0.566), (2.643, -0.583), (3.0, -0.596)],
        [(0, -0.591), (0.092, -0.600), (0.245, -0.659), (0.449, -0.727), (0.704, -0.779),
         (1.010, -0.821), (1.418, -0.855), (1.929, -0.881), (2.439, -0.898), (3.0, -0.910)],
        [(0.551, -0.349), (0.908, -0.395), (1.087, -0.463), (1.214, -0.532), (1.367, -0.600),
         (1.520, -0.651), (1.776, -0.685), (1.980, -0.724), (1.827, -0.736), (1.520, -0.762),
         (1.163, -0.753), (0.806, -0.719), (0.500, -0.668), (0.296, -0.617), (0.168, -0.549),
         (0.133, -0.480), (0.194, -0.412), (0.347, -0.370), (0.551, -0.349)],
        [(2.337, -0.724), (2.541, -0.719), (2.745, -0.722), (2.862, -0.770), (2.643, -0.784),
         (2.413, -0.779), (2.337, -0.724)],
    ],
    "low": [
        [(0.296, 0), (0.270, -0.055), (0.168, -0.174), (0.092, -0.276), (0.082, -0.361),
         (0, -0.361)],
        [(0.832, 0), (0.857, -0.038), (1.010, -0.106), (1.214, -0.174), (1.418, -0.208),
         (1.622, -0.242), (1.827, -0.276), (2.031, -0.324), (2.235, -0.344), (2.439, -0.358),
         (2.643, -0.382), (2.847, -0.404), (3.0, -0.416)],
        [(0.500, -0.080), (0.628, -0.089), (0.806, -0.140), (0.959, -0.208), (1.061, -0.276),
         (1.163, -0.361), (1.265, -0.412), (1.418, -0.455), (1.622, -0.506), (1.724, -0.540),
         (1.816, -0.600), (1.827, -0.622), (1.724, -0.625), (1.571, -0.651), (1.418, -0.676),
         (1.265, -0.688), (1.061, -0.688), (0.806, -0.676), (0.551, -0.654), (0.347, -0.625),
         (0.168, -0.583), (0.092, -0.532), (0.117, -0.446), (0.194, -0.327), (0.296, -0.208),
         (0.398, -0.114), (0.500, -0.080)],
        [(1.929, -0.622), (2.031, -0.617), (2.173, -0.625), (2.031, -0.630), (1.929, -0.622)],
        [(0, -0.586), (0.066, -0.591), (0.143, -0.634), (0.296, -0.685), (0.551, -0.736),
         (0.908, -0.770), (1.265, -0.787), (1.673, -0.792), (2.184, -0.801), (2.592, -0.807),
         (3.0, -0.804)],
    ],
}
BETA_MC = {
    "high": [
        [(0, 11.980), (0.066, 11.980), (0.117, 12.107), (0.245, 12.250), (0.449, 12.346),
         (0.653, 12.389), (0.857, 12.399), (1.112, 12.370), (1.418, 12.298), (1.724, 12.227),
         (2.133, 12.203), (2.592, 12.191), (3.0, 12.179)],
        [(0, 11.681), (0.066, 11.681), (0.194, 11.616), (0.372, 11.592), (0.551, 11.616),
         (0.806, 11.676), (1.112, 11.748), (1.418, 11.808), (1.827, 11.832), (2.337, 11.825),
         (2.745, 11.815), (3.0, 11.810)],
        [(0.653, 12.318), (0.500, 12.298), (0.347, 12.227), (0.219, 12.107), (0.184, 11.939),
         (0.219, 11.796), (0.347, 11.712), (0.526, 11.707), (0.755, 11.772), (1.010, 11.856),
         (1.265, 11.951), (1.495, 12.047), (1.418, 12.083), (1.214, 12.203), (0.959, 12.294),
         (0.806, 12.322), (0.653, 12.318)],
    ],
    "medium": [
        [(0.679, 12.497), (0.679, 12.466), (0.500, 12.418), (0.321, 12.322), (0.194, 12.203),
         (0.133, 12.083), (0.143, 11.916), (0.168, 11.772), (0.245, 11.652), (0.398, 11.580),
         (0.653, 11.604), (0.908, 11.664), (1.214, 11.712), (1.571, 11.748), (2.031, 11.760),
         (2.541, 11.748), (3.0, 11.743)],
        [(1.189, 12.497), (1.189, 12.466), (1.367, 12.394), (1.622, 12.322), (1.929, 12.262),
         (2.337, 12.238), (2.745, 12.226), (3.0, 12.222)],
        [(0.602, 12.310), (0.474, 12.286), (0.296, 12.203), (0.194, 12.059), (0.184, 11.916),
         (0.245, 11.772), (0.372, 11.700), (0.551, 11.705), (0.806, 11.772), (1.112, 11.868),
         (1.418, 11.951), (1.724, 11.975), (1.929, 12.035), (1.776, 12.155), (1.520, 12.227),
         (1.214, 12.298), (0.908, 12.322), (0.602, 12.310)],
        [(3.0, 11.999), (2.643, 12.040), (2.337, 12.023), (2.184, 11.975), (2.337, 11.951),
         (2.643, 11.927), (3.0, 11.958)],
    ],
    "low": [
        [(0, 11.920), (0.066, 11.920), (0.092, 12.035), (0.168, 12.155), (0.347, 12.262),
         (0.551, 12.298), (0.806, 12.303), (1.010, 12.274), (1.265, 12.179), (1.469, 12.107),
         (1.724, 12.059), (2.031, 12.052), (2.439, 12.059), (2.745, 12.059), (3.0, 12.054)],
        [(0, 11.545), (0.066, 11.545), (0.117, 11.461), (0.194, 11.341), (0.270, 11.221),
         (0.321, 11.150), (0.347, 11.097)],
        [(0.643, 11.097), (0.653, 11.138), (0.806, 11.221), (1.010, 11.305), (1.265, 11.377),
         (1.673, 11.389), (2.184, 11.401), (2.541, 11.408), (2.745, 11.437), (2.898, 11.492),
         (3.0, 11.492)],
        [(0.806, 12.207), (0.653, 12.203), (0.500, 12.167), (0.347, 12.095), (0.219, 11.987),
         (0.153, 11.844), (0.194, 11.676), (0.321, 11.533), (0.500, 11.377), (0.653, 11.389),
         (0.806, 11.461), (1.010, 11.556), (1.265, 11.652), (1.520, 11.724), (1.827, 11.760),
         (2.133, 11.772), (2.327, 11.767), (2.260, 11.832), (2.031, 11.856), (1.673, 11.892),
         (1.367, 11.951), (1.163, 12.035), (0.959, 12.143), (0.806, 12.207)],
    ],
}
EPS_MC = {
    "high": [
        [(-0.557, 12.387), (-0.676, 12.370), (-0.778, 12.322), (-0.862, 12.227), (-0.913, 12.107),
         (-0.922, 11.963), (-0.896, 11.844), (-0.828, 11.760), (-0.727, 11.724), (-0.625, 11.676),
         (-0.557, 11.628), (-0.489, 11.640), (-0.404, 11.724), (-0.362, 11.868), (-0.345, 12.035),
         (-0.362, 12.203), (-0.413, 12.322), (-0.481, 12.382), (-0.557, 12.387)],
        [(-0.540, 12.263), (-0.642, 12.215), (-0.727, 12.143), (-0.795, 12.047), (-0.808, 11.951),
         (-0.769, 11.892), (-0.676, 11.868), (-0.608, 11.820), (-0.565, 11.784), (-0.506, 11.796),
         (-0.455, 11.868), (-0.421, 11.987), (-0.418, 12.119), (-0.447, 12.215), (-0.489, 12.255),
         (-0.540, 12.263)],
    ],
    "medium": [
        [(-0.594, 12.497), (-0.594, 12.466), (-0.659, 12.442), (-0.761, 12.370), (-0.846, 12.286),
         (-0.905, 12.179), (-0.930, 12.035), (-0.913, 11.892), (-0.862, 11.772), (-0.761, 11.676),
         (-0.642, 11.604), (-0.540, 11.592), (-0.455, 11.628), (-0.387, 11.724), (-0.345, 11.868),
         (-0.328, 12.035), (-0.336, 12.179), (-0.387, 12.322), (-0.455, 12.418), (-0.492, 12.466),
         (-0.492, 12.497)],
        [(-0.591, 12.279), (-0.676, 12.238), (-0.744, 12.179), (-0.786, 12.083), (-0.803, 11.987),
         (-0.778, 11.892), (-0.710, 11.868), (-0.642, 11.820), (-0.574, 11.772), (-0.523, 11.772),
         (-0.464, 11.844), (-0.413, 11.963), (-0.404, 12.083), (-0.430, 12.179), (-0.489, 12.262),
         (-0.591, 12.279)],
    ],
    "low": [
        [(0, 11.401), (-0.030, 11.401), (-0.048, 11.341), (-0.098, 11.221), (-0.149, 11.150),
         (-0.217, 11.138), (-0.285, 11.198), (-0.387, 11.317), (-0.489, 11.437), (-0.591, 11.556),
         (-0.659, 11.628), (-0.761, 11.724), (-0.854, 11.820), (-0.862, 11.963), (-0.795, 12.083),
         (-0.710, 12.191), (-0.608, 12.274), (-0.514, 12.298), (-0.455, 12.306), (-0.387, 12.286),
         (-0.328, 12.227), (-0.285, 12.143), (-0.251, 12.059), (-0.217, 11.963), (-0.183, 11.868),
         (-0.132, 11.772), (-0.082, 11.676), (-0.030, 11.592), (0, 11.588)],
        [(-0.438, 12.150), (-0.523, 12.134), (-0.625, 12.071), (-0.710, 11.975), (-0.747, 11.892),
         (-0.735, 11.796), (-0.676, 11.700), (-0.591, 11.640), (-0.489, 11.580), (-0.387, 11.533),
         (-0.294, 11.490), (-0.260, 11.533), (-0.243, 11.652), (-0.260, 11.772), (-0.285, 11.892),
         (-0.319, 12.011), (-0.370, 12.107), (-0.438, 12.150)],
    ],
}

# ---------------- inset: f_ax boundary vs log(m_ax) ----------------
INSET_RANGE_X = [-26.0, -21.0]
INSET_RANGE_Y = [0.0, 1.0]
INSET_TICKS_X = [-26, -25, -24, -23, -22, -21]
INSET_TICKS_Y = [0.0, 0.2, 0.4, 0.6, 0.8, 1.0]
INSET = {
    "high": [
        [(-22.07, 0), (-22.04, 0.252), (-21.98, 0.252), (-21.88, 0.306), (-21.75, 0.442),
         (-21.65, 0.669), (-21.54, 0.907), (-21.51, 1.0)],
        [(-22.04, 0), (-22.03, 0.102), (-21.96, 0.102), (-21.86, 0.136), (-21.71, 0.204),
         (-21.58, 0.317), (-21.52, 0.431), (-21.41, 0.522), (-21.35, 0.612), (-21.27, 0.771),
         (-21.22, 0.873), (-21.16, 0.909), (-21.12, 0.901), (-21.08, 0.782), (-21.03, 0.726),
         (-21.0, 0.714)],
    ],
    "medium": [
        [(-24.15, 0), (-24.10, 0.136), (-24.03, 0.17), (-23.87, 0.173), (-23.61, 0.221),
         (-23.40, 0.241), (-23.19, 0.258), (-23.04, 0.261), (-22.85, 0.249), (-22.66, 0.221),
         (-22.51, 0.221), (-22.39, 0.232), (-22.24, 0.269), (-22.13, 0.306), (-22.04, 0.331),
         (-21.94, 0.331), (-21.90, 0.295), (-21.87, 0.159), (-21.85, 0)],
        [(-24.09, 0), (-24.06, 0.085), (-23.87, 0.085), (-23.66, 0.096), (-23.46, 0.125),
         (-23.34, 0.125), (-23.19, 0.108), (-23.02, 0.079), (-22.85, 0.079), (-22.66, 0.085),
         (-22.51, 0.102), (-22.34, 0.125), (-22.20, 0.153), (-22.04, 0.173), (-21.94, 0.173),
         (-21.92, 0.125), (-21.90, 0)],
    ],
    "low": [
        [(-26.0, 0.062), (-25.7, 0.09), (-25.4, 0.12), (-25.2, 0.138), (-25.0, 0.150),
         (-24.9, 0.148), (-24.75, 0.139), (-24.6, 0.145), (-24.45, 0.165), (-24.35, 0.173),
         (-24.2, 0.168), (-24.0, 0.165), (-23.95, 0.16), (-23.9, 0.12), (-23.87, 0.06),
         (-23.86, 0)],
        [(-25.5, 0), (-25.48, 0.025), (-25.30, 0.051), (-25.13, 0.062), (-25.03, 0.076),
         (-24.88, 0.076), (-24.75, 0.071), (-24.63, 0.077), (-24.46, 0.096), (-24.35, 0.108),
         (-24.2, 0.105), (-23.95, 0.104), (-23.92, 0.068), (-23.90, 0)],
    ],
}

# ---------------- layout (pixels) ----------------
FIG_W, FIG_H = 1336, 1317
PANEL = 196
COL_X = [97, 303, 509, 715, 921, 1127]
ROW_Y = [0.5, 207, 413, 619, 825, 1031]
XLABEL_PAD = {"fax": 22, "ns": 28, "alpha": 29, "beta": 21, "eps": 25, "mc": 25}
INSET_PX_X = [872, 1284]
INSET_PX_Y = [69.5, 364]
HIST_TOP = 196.0
TICK_FONT = 21
TITLE_FONT = 27

COLOR_SCALE = alt.Scale(domain=[LABEL_HIGH, LABEL_MED, LABEL_LOW], range=GROUP_COLORS)
# long thin legend line: custom path extends beyond the unit box, shifted by symbolOffset
LEGEND = alt.Legend(orient="none", legendX=723, legendY=469, title=None,
                    symbolType="M-3,0H3", symbolSize=289, symbolStrokeWidth=2,
                    symbolOffset=14, labelOffset=29, labelFont=FONT, labelFontSize=26,
                    labelColor="black", labelLimit=2000, padding=9, rowPadding=9,
                    strokeColor="#cccccc", fillColor="white", cornerRadius=4)

AX_BASE = dict(grid=False, domain=False, tickSize=4, tickWidth=1, tickColor="black",
               labelFont=FONT, labelColor="black", labelOverlap=False, labelFlush=False,
               titleFont=FONT, titleColor="black", titleFontWeight="normal")


def x_axis(key, row, col):
    base = dict(AX_BASE, orient="bottom", offset=ROW_Y[row] + PANEL - FIG_H, values=TICKS[key])
    if row == 5:
        return alt.Axis(**base, labels=True, format=FORMATS[key], labelAngle=315,
                        labelAlign="center", labelBaseline="middle",
                        labelPadding=XLABEL_PAD[key], labelFontSize=TICK_FONT,
                        title=TITLES[key], titleFontSize=TITLE_FONT, titleFontStyle="italic",
                        titleX=COL_X[col] + PANEL / 2, titleY=75, titleAlign="center",
                        titleBaseline="alphabetic")
    return alt.Axis(**base, labels=False, title=" ")


def y_axis(key, row, col):
    base = dict(AX_BASE, orient="left", offset=-COL_X[col], values=TICKS[key])
    if col == 0:
        return alt.Axis(**base, labels=True, format=FORMATS[key], labelAngle=315,
                        labelAlign="right", labelBaseline="middle", labelPadding=5,
                        labelFontSize=TICK_FONT, title=TITLES[key], titleFontSize=TITLE_FONT,
                        titleFontStyle="italic", titleX=28 - COL_X[0],
                        titleY=ROW_Y[row] + PANEL / 2, titleAngle=270, titleAlign="center",
                        titleBaseline="alphabetic")
    return alt.Axis(**base, labels=False, title=" ")


def lines_df(lines_by_group):
    rows = []
    for g in GROUPS:
        for k, line in enumerate(lines_by_group.get(g, [])):
            for i, (x, y) in enumerate(line):
                rows.append({"x": x, "y": y, "group": GROUP_LABEL[g], "line": f"{g}{k}", "i": i})
    return pd.DataFrame(rows)


def scales(xdom, ydom, xpx, ypx):
    xs = alt.Scale(domain=list(xdom), range=list(xpx), nice=False, zero=False, clamp=True)
    ys = alt.Scale(domain=list(ydom), range=list(ypx), nice=False, zero=False, clamp=True)
    return xs, ys


def line_layer(lines_by_group, xdom, ydom, xpx, ypx):
    xs, ys = scales(xdom, ydom, xpx, ypx)
    return alt.Chart(lines_df(lines_by_group)).mark_line(strokeWidth=1.5).encode(
        x=alt.X("x:Q", scale=xs, axis=None),
        y=alt.Y("y:Q", scale=ys, axis=None),
        color=alt.Color("group:N", scale=COLOR_SCALE, legend=LEGEND),
        detail="line:N",
        order="i:Q",
    )


def frame_layer(xdom, ydom, xpx, ypx, xaxis, yaxis):
    xs, ys = scales(xdom, ydom, xpx, ypx)
    frame_df = pd.DataFrame({"x0": [xdom[0]], "x1": [xdom[1]], "y0": [ydom[0]], "y1": [ydom[1]]})
    return alt.Chart(frame_df).mark_rect(fill="transparent", stroke="black", strokeWidth=1).encode(
        x=alt.X("x0:Q", scale=xs, axis=xaxis), x2="x1",
        y=alt.Y("y0:Q", scale=ys, axis=yaxis), y2="y1",
    )


def steps(lo, width, heights):
    pts = [(lo, 0.0)]
    for k, h in enumerate(heights):
        pts.append((lo + k * width, h))
        pts.append((lo + (k + 1) * width, h))
    pts.append((lo + len(heights) * width, 0.0))
    return pts


HISTS = {"ns": HIST_NS, "alpha": HIST_ALPHA, "beta": HIST_BETA, "eps": HIST_EPS, "mc": HIST_MC}
CONTOURS = {
    (1, 0): FAX_NS, (2, 0): FAX_ALPHA, (2, 1): NS_ALPHA,
    (3, 0): FAX_BETA, (3, 1): NS_BETA, (3, 2): ALPHA_BETA,
    (4, 0): FAX_EPS, (4, 1): NS_EPS, (4, 2): ALPHA_EPS, (4, 3): BETA_EPS,
    (5, 0): FAX_MC, (5, 1): NS_MC, (5, 2): ALPHA_MC, (5, 3): BETA_MC, (5, 4): EPS_MC,
}

line_layers = []
frame_layers = []

inset_x_axis = alt.Axis(**dict(AX_BASE, orient="bottom", offset=INSET_PX_Y[1] - FIG_H,
                               values=INSET_TICKS_X), format="d", labelAngle=0,
                        labelAlign="center", labelBaseline="top", labelPadding=3,
                        labelFontSize=20, title="log(mₐₓ/eV)", titleFontSize=TITLE_FONT,
                        titleX=(INSET_PX_X[0] + INSET_PX_X[1]) / 2, titleY=52,
                        titleAlign="center", titleBaseline="alphabetic")
inset_y_axis = alt.Axis(**dict(AX_BASE, orient="left", offset=-INSET_PX_X[0],
                               values=INSET_TICKS_Y), format=".1f", labelAngle=0,
                        labelAlign="right", labelBaseline="middle", labelPadding=4,
                        labelFontSize=20, title="fₐₓ = Ωₐₓ/Ωᴅᴍ", titleFontSize=TITLE_FONT,
                        titleX=820 - INSET_PX_X[0], titleY=(INSET_PX_Y[0] + INSET_PX_Y[1]) / 2,
                        titleAngle=270, titleAlign="center", titleBaseline="alphabetic")
inset_px_y = [INSET_PX_Y[1], INSET_PX_Y[0]]
line_layers.append(line_layer(INSET, INSET_RANGE_X, INSET_RANGE_Y, INSET_PX_X, inset_px_y))
frame_layers.append(frame_layer(INSET_RANGE_X, INSET_RANGE_Y, INSET_PX_X, inset_px_y,
                                inset_x_axis, inset_y_axis))

for r, key in enumerate(PARAMS):
    xpx = [COL_X[r], COL_X[r] + PANEL]
    ypx = [ROW_Y[r] + PANEL, ROW_Y[r]]
    if key == "fax":
        hist_lines = {g: [steps(0.0, HIST_FAX_WIDTH[g], HIST_FAX[g])] for g in GROUPS}
    else:
        lo, hi = RANGES[key]
        hist_lines = {}
        for g in GROUPS:
            h = HISTS[key][g]
            hist_lines[g] = [steps(lo, (hi - lo) / len(h), h)]
    line_layers.append(line_layer(hist_lines, RANGES[key], [0.0, HIST_TOP], xpx, ypx))
    frame_layers.append(frame_layer(RANGES[key], [0.0, HIST_TOP], xpx, ypx,
                                    x_axis(key, r, r), None))

for (r, c), data in CONTOURS.items():
    xkey, ykey = PARAMS[c], PARAMS[r]
    xpx = [COL_X[c], COL_X[c] + PANEL]
    ypx = [ROW_Y[r] + PANEL, ROW_Y[r]]
    line_layers.append(line_layer(data, RANGES[xkey], RANGES[ykey], xpx, ypx))
    frame_layers.append(frame_layer(RANGES[xkey], RANGES[ykey], xpx, ypx,
                                    x_axis(xkey, r, c), y_axis(ykey, r, c)))

chart = alt.layer(*line_layers, *frame_layers).resolve_scale(
    x="independent", y="independent"
).resolve_axis(
    x="independent", y="independent"
).properties(
    width=FIG_W, height=FIG_H, autosize=alt.AutoSizeParams(type="none"), padding=0,
    background="white",
).configure_view(strokeWidth=0)

chart.save("out.html", embed_options={"renderer": "svg", "actions": False})
